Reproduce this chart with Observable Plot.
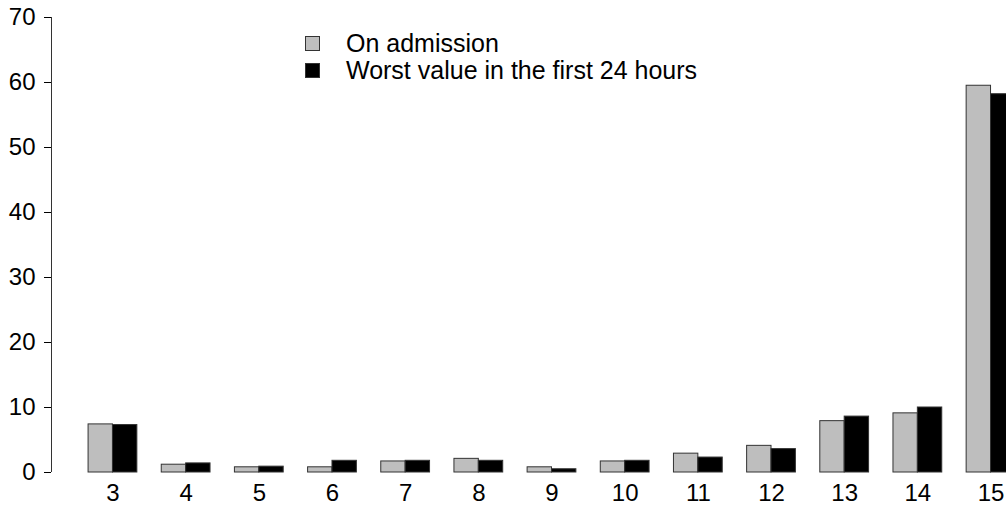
<!DOCTYPE html>
<html><head><meta charset="utf-8">
<script src="https://cdn.jsdelivr.net/npm/d3@7"></script>
<script src="https://cdn.jsdelivr.net/npm/@observablehq/plot@0.6"></script>
<style>
body{margin:0;background:#fff;font-family:"Liberation Sans",Arial,Helvetica,sans-serif;}
#wrap{position:relative;width:1006px;height:507px;overflow:hidden;}
#legend{position:absolute;left:305px;top:30px;font-size:25px;color:#000;line-height:27px;}
#legend .row{display:flex;align-items:center;height:27px;}
#legend .sw{width:13px;height:13px;border:1px solid #333;margin-right:26px;box-sizing:content-box;}
</style></head><body><div id="wrap"></div>
<script>
const scores = [3, 4, 5, 6, 7, 8, 9, 10, 11, 12, 13, 14, 15];
const onAdmission = [7.4, 1.2, 0.8, 0.8, 1.7, 2.1, 0.8, 1.7, 2.9, 4.1, 7.9, 9.1, 59.5];
const worst24h = [7.3, 1.4, 0.9, 1.8, 1.8, 1.8, 0.5, 1.8, 2.3, 3.6, 8.6, 10.0, 58.2];
const seriesNames = ["On admission", "Worst value in the first 24 hours"];
const seriesColors = ["#bebebe", "#000000"];
const yTicks = [0, 10, 20, 30, 40, 50, 60, 70];

// barplot layout (as in R's barplot with beside=TRUE): bar width 1, one bar-width of space before each group
const barWidth = 1, groupSpace = 1, nSeries = seriesNames.length;
const groupStep = nSeries * barWidth + groupSpace;
const data = scores.flatMap((s, i) => [onAdmission[i], worst24h[i]].map((v, j) => {
  const left = i * groupStep + groupSpace + j * barWidth;
  return {score: s, series: seriesNames[j], value: v, x1: left, x2: left + barWidth};
}));
const groupCenters = scores.map((s, i) => i * groupStep + groupSpace + nSeries * barWidth / 2);
const xLo = groupSpace, xHi = scores.length * groupStep;
const xPad = 0.04 * (xHi - xLo);

const font = "'Liberation Sans', Arial, Helvetica, sans-serif";
const chart = Plot.plot({
  width: 1006,
  height: 507,
  marginLeft: 51,
  marginRight: -46,
  marginTop: 17,
  marginBottom: 35,
  style: {fontSize: "24px", fontFamily: font, color: "#000", background: "#fff"},
  x: {domain: [xLo - xPad, xHi + xPad], axis: null},
  y: {domain: [0, 70], axis: null},
  color: {domain: seriesNames, range: seriesColors},
  marks: [
    Plot.rectY(data, {x1: "x1", x2: "x2", y: "value", fill: "series", stroke: "#333", strokeWidth: 1, inset: 0}),
    Plot.axisX({ticks: groupCenters, tickFormat: (d) => scores[groupCenters.indexOf(d)], tickSize: 0, tickPadding: 11, label: null, fontSize: 24}),
    Plot.axisY({ticks: yTicks, tickSize: 7, tickPadding: 9, label: null, fontSize: 24}),
    Plot.ruleX([xLo - xPad], {y1: yTicks[0], y2: yTicks[yTicks.length - 1], stroke: "#333"})
  ]
});
const wrap = document.getElementById("wrap");
wrap.appendChild(chart);

const legend = document.createElement("div");
legend.id = "legend";
seriesNames.forEach((name, i) => {
  const row = document.createElement("div");
  row.className = "row";
  const sw = document.createElement("span");
  sw.className = "sw";
  sw.style.background = seriesColors[i];
  const label = document.createElement("span");
  label.textContent = name;
  row.appendChild(sw);
  row.appendChild(label);
  legend.appendChild(row);
});
wrap.appendChild(legend);
</script></body></html>
